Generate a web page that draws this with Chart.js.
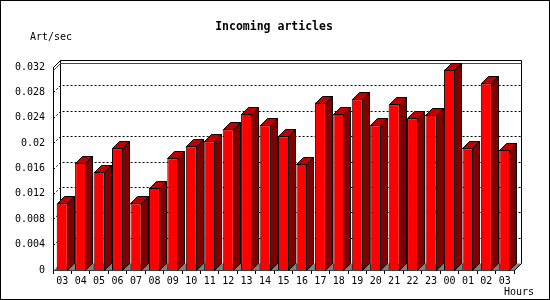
<!DOCTYPE html>
<html>
<head>
<meta charset="utf-8">
<script src="https://cdn.jsdelivr.net/npm/chart.js@4.4.1/dist/chart.umd.min.js"></script>
<style>
  html, body { margin: 0; padding: 0; background: #fff; }
  #wrap { width: 550px; height: 300px; }
</style>
</head>
<body>
<div id="wrap"><canvas id="articlesChart" width="550" height="300"></canvas></div>
<script>
// Hour labels along the x axis
const hours = ['03', '04', '05', '06', '07', '08', '09', '10', '11', '12', '13', '14', '15',
               '16', '17', '18', '19', '20', '21', '22', '23', '00', '01', '02', '03'];

// Incoming articles per second, one bar per hour
const artPerSec = [0.0105, 0.0169, 0.0155, 0.0192, 0.0105, 0.0130, 0.0176, 0.0195, 0.0203,
                   0.0222, 0.0246, 0.0228, 0.0211, 0.0167, 0.0264, 0.0246, 0.0269, 0.0228,
                   0.0261, 0.0239, 0.0245, 0.0316, 0.0192, 0.0294, 0.0189];

// Y axis tick values
const yTicks = [0, 0.004, 0.008, 0.012, 0.016, 0.02, 0.024, 0.028, 0.032];

const depth = 7;
const monoFont = '"DejaVu Sans Mono", "Liberation Mono", monospace';

// draws the 3d box: floor, back wall, grid, max line, bar tops and sides
const threeD = {
    id: 'threeD',
    beforeDatasetsDraw(chart) {
        const { ctx, chartArea: a, scales: { y } } = chart;
        const L = Math.round(a.left) + 0.5, R = Math.round(a.right) + 0.5, B = Math.round(a.bottom) + 0.5, T = Math.round(a.top) + 0.5;
        ctx.save();
        ctx.lineWidth = 1;

        // floor
        ctx.fillStyle = '#808080';
        ctx.beginPath();
        ctx.moveTo(L, B);
        ctx.lineTo(L + depth, B - depth);
        ctx.lineTo(R + depth, B - depth);
        ctx.lineTo(R, B);
        ctx.closePath();
        ctx.fill();

        // dotted grid on the back wall
        ctx.strokeStyle = '#000';
        ctx.setLineDash([2, 2]);
        yTicks.slice(1, -1).forEach(v => {
            const py = Math.round(y.getPixelForValue(v)) + 0.5;
            ctx.beginPath();
            ctx.moveTo(L, py);
            ctx.lineTo(L + depth, py - depth);
            ctx.lineTo(R + depth, py - depth);
            ctx.stroke();
        });
        ctx.setLineDash([]);

        // back wall frame
        ctx.beginPath();
        ctx.moveTo(L, T);
        ctx.lineTo(L + depth, T - depth);
        ctx.lineTo(R + depth, T - depth);
        ctx.lineTo(R + depth, B - depth);
        ctx.lineTo(R, B);
        ctx.moveTo(L + depth, T - depth);
        ctx.lineTo(L + depth, B - depth);
        ctx.stroke();

        // red line at the maximum
        const my = Math.round(y.getPixelForValue(Math.max(...artPerSec))) + 0.5;
        ctx.strokeStyle = '#ff0000';
        ctx.beginPath();
        ctx.moveTo(L, my);
        ctx.lineTo(L + depth, my - depth);
        ctx.lineTo(R + depth, my - depth);
        ctx.stroke();
        ctx.restore();
    },
    afterDatasetsDraw(chart) {
        const { ctx } = chart;
        ctx.save();
        ctx.lineWidth = 1;
        ctx.strokeStyle = '#000';
        chart.getDatasetMeta(0).data.forEach(bar => {
            const l = Math.round(bar.x - bar.width / 2) + 0.5;
            const r = Math.round(bar.x + bar.width / 2) - 0.5;
            const t = Math.round(bar.y) + 0.5;
            const b = Math.round(bar.base) + 0.5;

            // side
            ctx.fillStyle = '#800000';
            ctx.beginPath();
            ctx.moveTo(r, t);
            ctx.lineTo(r + depth, t - depth);
            ctx.lineTo(r + depth, b - depth);
            ctx.lineTo(r, b);
            ctx.closePath();
            ctx.fill();
            ctx.stroke();

            // top
            ctx.fillStyle = '#c00000';
            ctx.beginPath();
            ctx.moveTo(l, t);
            ctx.lineTo(l + depth, t - depth);
            ctx.lineTo(r + depth, t - depth);
            ctx.lineTo(r, t);
            ctx.closePath();
            ctx.fill();
            ctx.stroke();
        });
        ctx.restore();
    },
    afterDraw(chart) {
        const { ctx } = chart;
        ctx.save();
        ctx.fillStyle = '#000';
        ctx.textBaseline = 'middle';
        ctx.font = 'bold 11.5px ' + monoFont;
        ctx.textAlign = 'center';
        ctx.fillText('Incoming articles', 274, 27);
        ctx.font = '10px ' + monoFont;
        ctx.textAlign = 'left';
        ctx.fillText('Art/sec', 30, 37);
        ctx.fillText('Hours', 504, 292);
        ctx.strokeStyle = '#000';
        ctx.lineWidth = 1;
        ctx.strokeRect(0.5, 0.5, 549, 299);
        ctx.restore();
    }
};

const ctx = document.getElementById('articlesChart').getContext('2d');
new Chart(ctx, {
    type: 'bar',
    data: {
        labels: hours,
        datasets: [{
            label: 'Incoming articles',
            data: artPerSec,
            backgroundColor: '#ff0000',
            borderColor: '#000',
            borderWidth: 1,
            categoryPercentage: 1,
            barPercentage: 0.6
        }]
    },
    options: {
        responsive: false,
        animation: false,
        layout: { padding: { left: 0, top: 67, right: 36, bottom: 0 } },
        plugins: {
            legend: { display: false },
            tooltip: { enabled: false },
            title: { display: false }
        },
        scales: {
            x: {
                offset: true,
                grid: { display: true, drawOnChartArea: false, drawTicks: true, tickLength: 4, color: '#000', offset: true },
                border: { display: true, color: '#000' },
                ticks: { color: '#000', font: { family: monoFont, size: 10 }, padding: 1, maxRotation: 0, autoSkip: false },
                afterFit: s => { s.height = 30; }
            },
            y: {
                min: 0,
                max: 0.032,
                grid: { display: false, drawTicks: false },
                border: { display: true, color: '#000' },
                afterBuildTicks: s => { s.ticks = yTicks.map(v => ({ value: v })); },
                ticks: {
                    color: '#000',
                    font: { family: monoFont, size: 10 },
                    padding: 8,
                    callback: v => String(+v.toFixed(3))
                },
                afterFit: s => { s.width = 53; }
            }
        }
    },
    plugins: [threeD]
});
</script>
</body>
</html>
